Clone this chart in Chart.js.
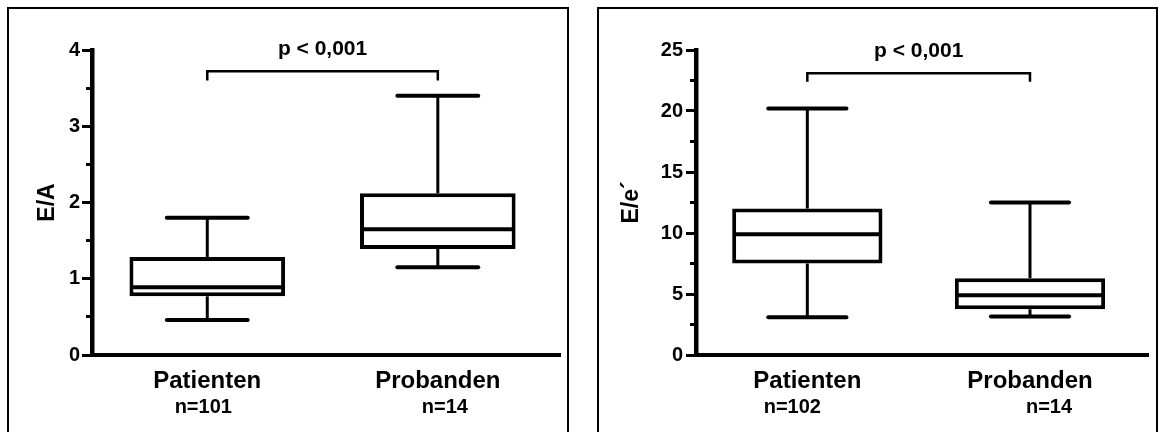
<!DOCTYPE html>
<html>
<head>
<meta charset="utf-8">
<script src="https://cdn.jsdelivr.net/npm/chart.js@4.4.0/dist/chart.umd.min.js"></script>
<style>
  body { margin:0; background:#fff; width:1162px; height:439px; overflow:hidden; position:relative; }
  .panel { position:absolute; top:7px; height:425px; border:2px solid #000; border-bottom:none; box-sizing:border-box; }
  .wrap { position:absolute; top:9px; height:430px; }
</style>
</head>
<body>
<div class="panel" style="left:7px;width:562px"></div>
<div class="panel" style="left:597px;width:561px"></div>
<div class="wrap" style="left:9px;width:557px"><canvas id="chartEA" width="557" height="430"></canvas></div>
<div class="wrap" style="left:600px;width:555px"><canvas id="chartEe" width="555" height="430"></canvas></div>
<script>
// groups and sample sizes
const groups = ['Patienten', 'Probanden'];
const nEA = ['n=101', 'n=14'];
const nEe = ['n=102', 'n=14'];

// E/A box plot values (min, Q1, median, Q3, max)
const eaMin = [0.46, 1.15];
const eaQ1 = [0.77, 1.39];
const eaMedian = [0.89, 1.65];
const eaQ3 = [1.285, 2.12];
const eaMax = [1.80, 3.40];

// E/e´ box plot values
const eeMin = [3.1, 3.15];
const eeQ1 = [7.5, 3.75];
const eeMedian = [9.9, 4.9];
const eeQ3 = [12.0, 6.3];
const eeMax = [20.2, 12.5];

// significance bracket: top level, end level
const pText = 'p < 0,001';
const eaBracket = [3.72, 3.6];
const eeBracket = [23.1, 22.4];

const FONT = '"Liberation Sans", Arial, sans-serif';

function line(ctx, x1, y1, x2, y2) {
  ctx.beginPath();
  ctx.moveTo(x1, y1);
  ctx.lineTo(x2, y2);
  ctx.stroke();
}

const boxPlot = {
  id: 'boxPlot',
  afterDatasetsDraw(chart, args, o) {
    const {ctx, scales: {x, y}} = chart;
    const bars = chart.getDatasetMeta(0).data;
    ctx.save();
    ctx.strokeStyle = '#000';
    o.median.forEach((m, i) => {
      const cx = x.getPixelForValue(i);
      const half = bars[i].width / 2;
      ctx.lineCap = 'butt';
      ctx.lineWidth = 3;
      line(ctx, cx, y.getPixelForValue(o.q3[i]), cx, y.getPixelForValue(o.max[i]));
      line(ctx, cx, y.getPixelForValue(o.q1[i]), cx, y.getPixelForValue(o.min[i]));
      ctx.lineWidth = 4;
      line(ctx, cx - half + 2, y.getPixelForValue(m), cx + half - 2, y.getPixelForValue(m));
      ctx.lineCap = 'round';
      const cap = half * 0.52;
      line(ctx, cx - cap, y.getPixelForValue(o.max[i]), cx + cap, y.getPixelForValue(o.max[i]));
      line(ctx, cx - cap, y.getPixelForValue(o.min[i]), cx + cap, y.getPixelForValue(o.min[i]));
    });
    ctx.restore();
  },
  afterDraw(chart, args, o) {
    const {ctx, chartArea, scales: {x, y}} = chart;
    const x0 = x.getPixelForValue(0), x1 = x.getPixelForValue(1);
    const yt = y.getPixelForValue(o.bracket[0]), ye = y.getPixelForValue(o.bracket[1]);
    ctx.save();
    ctx.strokeStyle = '#000';
    ctx.lineWidth = 2.5;
    ctx.lineJoin = 'miter';
    ctx.beginPath();
    ctx.moveTo(x0, ye);
    ctx.lineTo(x0, yt);
    ctx.lineTo(x1, yt);
    ctx.lineTo(x1, ye);
    ctx.stroke();
    ctx.fillStyle = '#000';
    ctx.textAlign = 'center';
    ctx.textBaseline = 'alphabetic';
    ctx.font = 'bold 21px ' + FONT;
    ctx.fillText(pText, (x0 + x1) / 2, yt - 16);
    ctx.font = 'bold 20px ' + FONT;
    o.n.forEach((t, i) => {
      ctx.fillText(t, x.getPixelForValue(i) + o.nShift[i], chartArea.bottom + 58);
    });
    ctx.restore();
  }
};

function makeChart(id, cfg) {
  new Chart(document.getElementById(id), {
    type: 'bar',
    data: {
      datasets: [{
        data: groups.map((g, i) => ({x: i, y: [cfg.q1[i], cfg.q3[i]]})),
        backgroundColor: '#fff',
        borderColor: '#000',
        borderWidth: 4,
        borderSkipped: false,
        barPercentage: 0.675,
        categoryPercentage: 1
      }]
    },
    options: {
      responsive: false,
      animation: false,
      layout: {padding: {top: 41, right: cfg.padRight, left: 0, bottom: 0}},
      plugins: {
        legend: {display: false},
        tooltip: {enabled: false},
        boxPlot: cfg
      },
      scales: {
        x: {
          type: 'linear',
          min: -0.5,
          max: 1.53,
          offset: false,
          grid: {display: false, drawTicks: false, offset: false},
          border: {width: 4, color: '#000'},
          afterBuildTicks: s => { s.ticks = groups.map((g, i) => ({value: i})); },
          afterFit: s => { s.height = 84; },
          ticks: {
            callback: v => groups[v],
            autoSkip: false,
            maxRotation: 0,
            padding: 12,
            color: '#000',
            font: {family: FONT, size: 24, weight: 'bold'}
          }
        },
        y: {
          min: 0,
          max: cfg.yMax,
          afterFit: s => { s.width = cfg.axisWidth; },
          grid: {
            drawOnChartArea: false,
            tickLength: 10,
            tickWidth: 3,
            tickColor: '#000',
            tickBorderDash: c => (c.tick && c.tick.value % cfg.yStep) ? [0, 4, 20] : []
          },
          border: {width: 4.5, color: '#000'},
          ticks: {
            stepSize: cfg.yStep / 2,
            autoSkip: false,
            padding: cfg.tickPad,
            color: '#000',
            font: {family: FONT, size: 20, weight: 'bold'},
            callback: v => (v % cfg.yStep === 0 ? v : '')
          },
          title: {
            display: true,
            text: cfg.title,
            color: '#000',
            font: {family: FONT, size: 23, weight: 'bold'},
            padding: {top: cfg.titlePad, bottom: 0}
          }
        }
      }
    },
    plugins: [boxPlot]
  });
}

makeChart('chartEA', {
  title: 'E/A', yMax: 4, yStep: 1, axisWidth: 83, padRight: 6, tickPad: 2, titlePad: 25,
  min: eaMin, q1: eaQ1, median: eaMedian, q3: eaQ3, max: eaMax,
  bracket: eaBracket, n: nEA, nShift: [-4, 7]
});

makeChart('chartEe', {
  title: 'E/e´', yMax: 25, yStep: 5, axisWidth: 96, padRight: 7, tickPad: 3, titlePad: 18,
  min: eeMin, q1: eeQ1, median: eeMedian, q3: eeQ3, max: eeMax,
  bracket: eeBracket, n: nEe, nShift: [-15, 19]
});
</script>
</body>
</html>
